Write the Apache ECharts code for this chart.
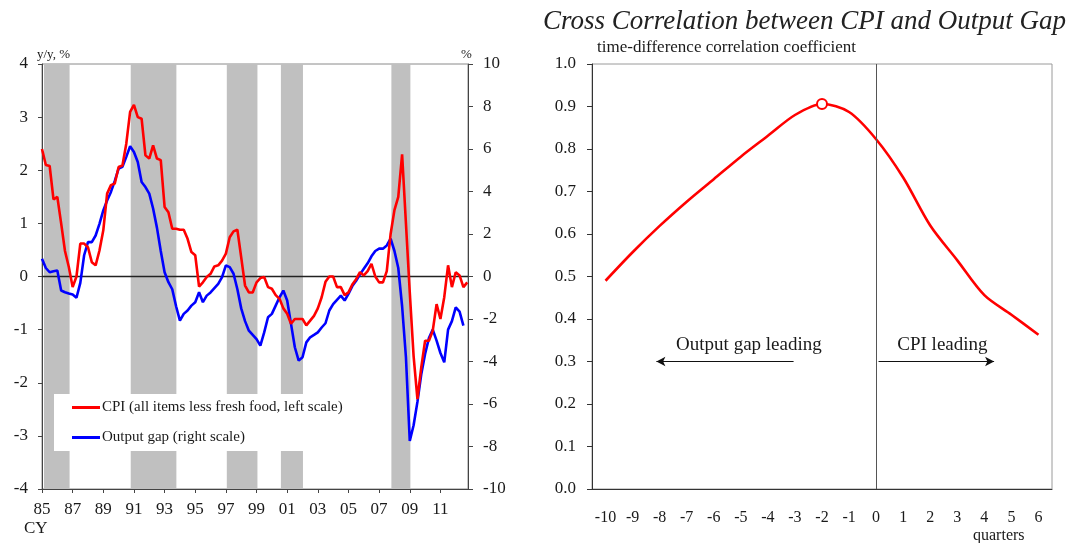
<!DOCTYPE html>
<html>
<head>
<meta charset="utf-8">
<title>CPI and Output Gap</title>
<script src="https://cdn.jsdelivr.net/npm/echarts@6/dist/echarts.min.js"></script>
<style>
  html, body { margin: 0; padding: 0; background: #fff; }
  #chart { width: 1072px; height: 543px; }
</style>
</head>
<body>
<div id="chart"></div>
<script>
// quarterly data, first point 1985 Q1
const startYear = 1985;

// CPI (all items less fresh food), y/y %, left scale
const cpi = [
  2.4, 2.1, 2.08, 1.45,
  1.5, 1.0, 0.48, 0.18,
  -0.2, 0.0, 0.62, 0.62,
  0.55, 0.27, 0.21, 0.49,
  0.87, 1.56, 1.72, 1.75,
  2.06, 2.09, 2.5, 3.1,
  3.23, 3.0, 2.97, 2.28,
  2.22, 2.47, 2.22, 2.19,
  1.31, 1.21, 0.9, 0.9,
  0.88, 0.88, 0.71, 0.46,
  0.4, -0.19, -0.11, -0.01,
  0.05, 0.19, 0.21, 0.3,
  0.43, 0.74, 0.85, 0.88,
  0.36, -0.17, -0.3, -0.3,
  -0.11, -0.03, -0.01, -0.2,
  -0.23, -0.35, -0.42, -0.6,
  -0.7, -0.89, -0.8, -0.8,
  -0.8, -0.92, -0.83, -0.74,
  -0.6, -0.39, -0.1, 0.0,
  0.0, -0.2, -0.2, -0.35,
  -0.3, -0.15, -0.05, 0.08,
  0.02, 0.1, 0.24, 0.0,
  -0.11, -0.11, 0.1, 0.8,
  1.25, 1.5, 2.3, 1.0,
  -0.3, -1.5, -2.31, -1.71,
  -1.21, -1.21, -1.02, -0.52,
  -0.8, -0.39, 0.21, -0.2,
  0.08, 0.02, -0.2, -0.11
];

// output gap, %, right scale
const outputGap = [
  0.83, 0.4, 0.2, 0.25,
  0.28, -0.66, -0.74, -0.8,
  -0.85, -1.0, -0.3, 1.0,
  1.62, 1.62, 1.93, 2.48,
  3.11, 3.58, 3.98, 4.5,
  5.08, 5.16, 5.63, 6.13,
  5.86, 5.39, 4.45, 4.21,
  3.9, 3.2, 2.3, 1.2,
  0.2, -0.27, -0.6, -1.4,
  -2.08, -1.76, -1.6, -1.37,
  -1.21, -0.74, -1.21, -0.9,
  -0.75, -0.55, -0.35, -0.03,
  0.52, 0.44, 0.13, -0.6,
  -1.5, -2.1, -2.55, -2.75,
  -2.95, -3.25, -2.63, -1.92,
  -1.76, -1.37, -0.98, -0.66,
  -1.13, -2.23, -3.33, -3.96,
  -3.8, -3.1, -2.86, -2.75,
  -2.63, -2.4, -2.2, -1.6,
  -1.3, -1.1, -0.9, -1.13,
  -0.82, -0.45, -0.2, 0.1,
  0.36, 0.62, 0.95, 1.2,
  1.31, 1.31, 1.46, 1.78,
  1.2, 0.4, -1.4, -3.8,
  -7.74, -7.0, -5.9, -4.6,
  -3.65, -2.9, -2.5, -3.02,
  -3.6, -4.04, -2.5, -2.1,
  -1.45, -1.65, -2.31
];

// shaded recession periods (start, end)
const recessions = [
  [1985.13, 1986.8],
  [1990.79, 1993.77],
  [1997.06, 1999.06],
  [2000.59, 2002.03],
  [2007.8, 2009.04]
];

// cross correlation, lag in quarters
const lags = ['-10', '-9', '-8', '-7', '-6', '-5', '-4', '-3', '-2', '-1', '0', '1', '2', '3', '4', '5', '6'];
const corr = [0.49, 0.557, 0.619, 0.676, 0.729, 0.782, 0.831, 0.88, 0.906, 0.887, 0.823, 0.733, 0.62, 0.538, 0.456, 0.41, 0.363];

// arrows "leading" at corr 0.3: [from, to] in quarters
const arrowY = 0.3;
const arrows = [[-3.05, -8.12], [0.09, 4.36]];
const notes = [
  { text: 'Output gap leading', x: -4.7, y: 0.338 },
  { text: 'CPI leading', x: 2.45, y: 0.338 }
];

const cpiName = 'CPI (all items less fresh food, left scale)';
const gapName = 'Output gap (right scale)';
const serif = 'Liberation Serif';
const ink = '#1a1a1a';

const chart = echarts.init(document.getElementById('chart'));

const option = {
  animation: false,
  backgroundColor: '#fff',
  textStyle: { fontFamily: serif, color: ink },
  title: {
    text: 'Cross Correlation between CPI and Output Gap',
    left: 538,
    top: 3,
    textStyle: { fontFamily: serif, fontStyle: 'italic', fontWeight: 'normal', fontSize: 27, color: '#222' }
  },
  legend: {
    data: [cpiName, gapName],
    orient: 'vertical',
    left: 54,
    top: 394,
    padding: [6, 6, 6, 18],
    itemGap: 15,
    itemWidth: 28,
    itemHeight: 3,
    icon: 'rect',
    backgroundColor: '#fff',
    textStyle: { fontFamily: serif, fontSize: 15, color: ink, padding: [0, 0, 0, -3] }
  },
  grid: [
    { left: 42, right: 604, top: 64, bottom: 54, show: true, borderColor: '#8a8a8a', borderWidth: 1 },
    { left: 592, right: 20, top: 64, bottom: 54, show: true, borderColor: '#9a9a9a', borderWidth: 1 }
  ],
  xAxis: [
    {
      type: 'value', gridIndex: 0, min: 1985, max: 2012.8, interval: 2,
      axisLine: { onZero: false, lineStyle: { color: '#444' } },
      axisTick: { length: 4, lineStyle: { color: '#444' } },
      axisLabel: {
        margin: 12, fontSize: 17, fontFamily: serif, color: ink, showMaxLabel: false,
        formatter: v => String(v % 100).padStart(2, '0')
      },
      splitLine: { show: false }
    },
    {
      type: 'category', gridIndex: 1, data: lags,
      axisLine: { onZero: false, lineStyle: { color: '#333' } },
      axisTick: { length: 5, lineStyle: { color: '#333' } },
      axisLabel: { interval: 0, margin: 21, fontSize: 16, fontFamily: serif, color: ink },
      splitLine: { show: false }
    },
    {
      // hidden numeric axis for the annotation arrows
      type: 'value', gridIndex: 1, min: -10.5, max: 6.5, show: false
    }
  ],
  yAxis: [
    {
      type: 'value', gridIndex: 0, min: -4, max: 4, interval: 1,
      axisLine: { show: true, onZero: false, lineStyle: { color: '#444' } },
      axisTick: { show: true, length: 4, lineStyle: { color: '#444' } },
      axisLabel: { margin: 14, fontSize: 17, fontFamily: serif, color: ink },
      splitLine: { show: false }
    },
    {
      type: 'value', gridIndex: 0, position: 'right', min: -10, max: 10, interval: 2,
      axisLine: { show: true, onZero: false, lineStyle: { color: '#444' } },
      axisTick: { show: true, length: 5, lineStyle: { color: '#444' } },
      axisLabel: { margin: 15, fontSize: 17, fontFamily: serif, color: ink },
      splitLine: { show: false }
    },
    {
      type: 'value', gridIndex: 1, min: 0, max: 1, interval: 0.1,
      axisLine: { show: true, onZero: false, lineStyle: { color: '#333' } },
      axisTick: { show: true, length: 5, lineStyle: { color: '#333' } },
      axisLabel: { margin: 16, fontSize: 17, fontFamily: serif, color: ink, formatter: v => v.toFixed(1) },
      splitLine: { show: false }
    }
  ],
  graphic: [
    { type: 'text', left: 37, top: 48, style: { text: 'y/y, %', font: '13px "Liberation Serif"', fill: ink } },
    { type: 'text', left: 461, top: 48, style: { text: '%', font: '13px "Liberation Serif"', fill: ink } },
    { type: 'text', left: 24, top: 520, style: { text: 'CY', font: '17px "Liberation Serif"', fill: ink } },
    { type: 'text', left: 597, top: 39, style: { text: 'time-difference correlation coefficient', font: '17px "Liberation Serif"', fill: ink } },
    { type: 'text', left: 973, top: 528, style: { text: 'quarters', font: '16px "Liberation Serif"', fill: ink } }
  ],
  series: [
    {
      name: gapName,
      type: 'line',
      xAxisIndex: 0, yAxisIndex: 1,
      data: outputGap.map((v, i) => [startYear + i / 4, v]),
      symbol: 'none',
      color: '#0000ff',
      lineStyle: { color: '#0000ff', width: 2.6 },
      z: 3,
      markArea: {
        silent: true,
        itemStyle: { color: '#c0c0c0' },
        data: recessions.map(r => [{ xAxis: r[0] }, { xAxis: r[1] }])
      }
    },
    {
      name: cpiName,
      type: 'line',
      xAxisIndex: 0, yAxisIndex: 0,
      data: cpi.map((v, i) => [startYear + i / 4, v]),
      symbol: 'none',
      color: '#ff0000',
      lineStyle: { color: '#ff0000', width: 2.6 },
      z: 4,
      markLine: {
        silent: true,
        symbol: 'none',
        z: 2,
        label: { show: false },
        lineStyle: { color: '#222', width: 1.4, type: 'solid' },
        data: [{ yAxis: 0 }]
      }
    },
    {
      name: 'corr',
      type: 'line',
      xAxisIndex: 1, yAxisIndex: 2,
      data: corr,
      symbol: 'none',
      smooth: 0.3,
      color: '#ff0000',
      lineStyle: { color: '#ff0000', width: 2.6 },
      z: 4,
      markPoint: {
        symbol: 'circle',
        symbolSize: 10,
        itemStyle: { color: '#fff', borderColor: '#ff0000', borderWidth: 2 },
        label: { show: false },
        data: [{ type: 'max' }]
      },
      markLine: {
        silent: true,
        symbol: 'none',
        label: { show: false },
        lineStyle: { color: '#555', width: 1, type: 'solid' },
        data: [{ xAxis: '0' }]
      }
    },
    {
      name: 'notes',
      type: 'line',
      xAxisIndex: 2, yAxisIndex: 2,
      data: [],
      markLine: {
        silent: true,
        symbol: ['none', 'arrow'],
        symbolSize: [7, 9],
        label: { show: false },
        lineStyle: { color: '#111', width: 1, type: 'solid' },
        data: arrows.map(a => [{ coord: [a[0], arrowY] }, { coord: [a[1], arrowY] }])
      },
      markPoint: {
        symbol: 'rect',
        symbolSize: 1,
        itemStyle: { color: 'rgba(0,0,0,0)' },
        label: { show: true, position: 'inside', fontFamily: serif, fontSize: 19, color: ink, formatter: p => p.name },
        data: notes.map(n => ({ name: n.text, coord: [n.x, n.y] }))
      }
    }
  ]
};

chart.setOption(option);
</script>
</body>
</html>
